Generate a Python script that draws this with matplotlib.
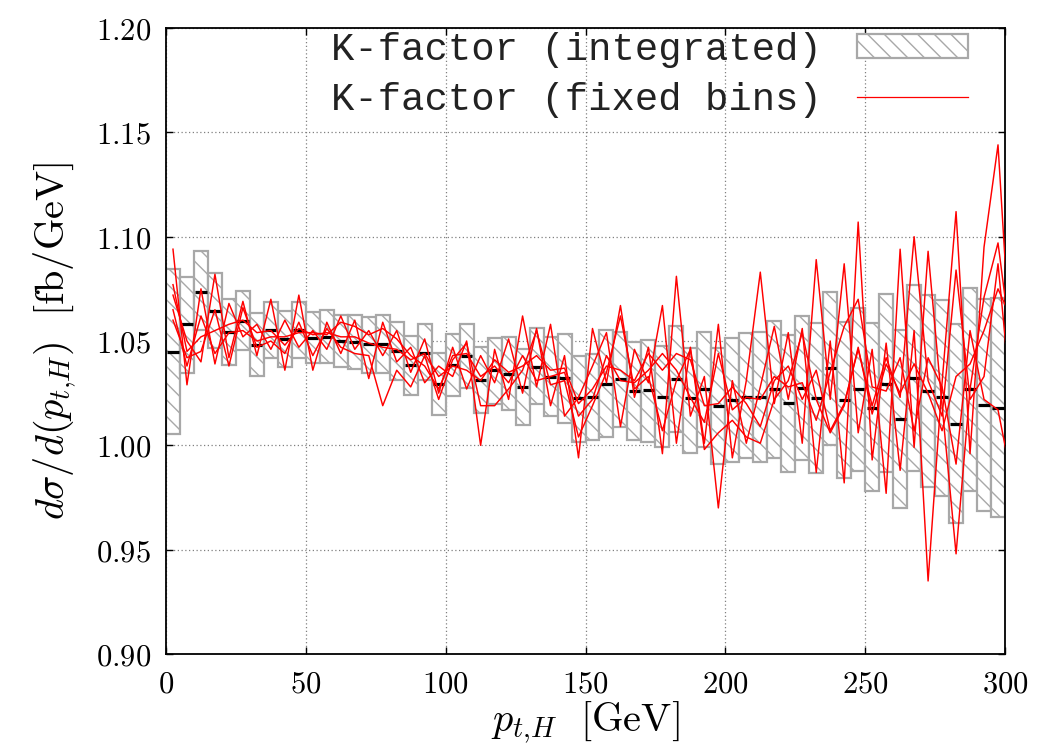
import numpy as np
import matplotlib
matplotlib.use("Agg")
import matplotlib.pyplot as plt
from matplotlib.patches import Patch
from matplotlib.lines import Line2D
from matplotlib.ticker import FuncFormatter

plt.rcParams['mathtext.fontset'] = 'cm'
plt.rcParams['hatch.linewidth'] = 1.0

# ---- integrated K-factor bins (5 GeV) ----
bin_edges_lo = np.arange(0, 300, 5)
box_top = [1.0845, 1.0808, 1.0930, 1.0824, 1.0700, 1.0740, 1.0633, 1.0689, 1.0644, 1.0685,
           1.0641, 1.0649, 1.0625, 1.0625, 1.0614, 1.0625, 1.0593, 1.0524, 1.0582, 1.0444,
           1.0534, 1.0582, 1.0473, 1.0516, 1.0518, 1.0460, 1.0561, 1.0521, 1.0534, 1.0428,
           1.0438, 1.0553, 1.0542, 1.0497, 1.0505, 1.0476, 1.0574, 1.0465, 1.0542, 1.0468,
           1.0513, 1.0540, 1.0545, 1.0598, 1.0529, 1.0622, 1.0585, 1.0737, 1.0592, 1.0657,
           1.0585, 1.0724, 1.0553, 1.0769, 1.0721, 1.0697, 1.0580, 1.0756, 1.0702, 1.0708]
box_bottom = [1.0055, 1.0348, 1.0553, 1.0465, 1.0385, 1.0457, 1.0334, 1.0417, 1.0377, 1.0417,
              1.0393, 1.0393, 1.0374, 1.0365, 1.0345, 1.0345, 1.0313, 1.0242, 1.0313, 1.0146,
              1.0237, 1.0274, 1.0154, 1.0198, 1.0170, 1.0098, 1.0198, 1.0141, 1.0109, 1.0018,
              1.0026, 1.0042, 1.0090, 1.0026, 1.0018, 0.9994, 1.0063, 0.9965, 0.9994, 0.9911,
              0.9922, 0.9938, 0.9922, 0.9938, 0.9870, 0.9930, 0.9866, 1.0002, 0.9843, 0.9878,
              0.9779, 0.9870, 0.9702, 0.9879, 0.9799, 0.9759, 0.9627, 0.9782, 0.9686, 0.9656]
box_center = [1.0449, 1.0580, 1.0735, 1.0646, 1.0543, 1.0598, 1.0483, 1.0553, 1.0511, 1.0553,
              1.0516, 1.0521, 1.0502, 1.0497, 1.0484, 1.0484, 1.0452, 1.0384, 1.0441, 1.0296,
              1.0387, 1.0428, 1.0313, 1.0361, 1.0342, 1.0278, 1.0377, 1.0329, 1.0321, 1.0226,
              1.0230, 1.0294, 1.0317, 1.0262, 1.0266, 1.0234, 1.0318, 1.0229, 1.0269, 1.0190,
              1.0218, 1.0234, 1.0234, 1.0269, 1.0202, 1.0277, 1.0226, 1.0371, 1.0218, 1.0269,
              1.0181, 1.0294, 1.0128, 1.0323, 1.0261, 1.0230, 1.0103, 1.0269, 1.0194, 1.0181]

# ---- fixed-bins K-factor curves (points at bin centres) ----
red_x = np.arange(2.5, 305, 5)
red_1 = [1.094, 1.029, 1.075, 1.039, 1.068, 1.052, 1.058, 1.046, 1.060, 1.047,
         1.055, 1.046, 1.062, 1.046, 1.055, 1.043, 1.055, 1.035, 1.051, 1.025,
         1.047, 1.027, 1.043, 1.030, 1.051, 1.025, 1.056, 1.019, 1.043, 0.994,
         1.056, 1.030, 1.067, 1.023, 1.047, 0.996, 1.081, 1.014, 1.033, 0.970,
         1.031, 1.001, 1.028, 1.057, 1.022, 1.056, 0.987, 1.050, 0.982, 1.107,
         0.993, 1.049, 0.988, 1.055, 0.935, 1.030, 1.112, 0.996, 1.095, 1.144, 1.034]
red_2 = [1.072, 1.050, 1.040, 1.082, 1.042, 1.069, 1.043, 1.070, 1.036, 1.072,
         1.036, 1.059, 1.044, 1.060, 1.032, 1.059, 1.040, 1.047, 1.030, 1.038,
         1.033, 1.050, 1.000, 1.046, 1.022, 1.062, 1.028, 1.058, 1.014, 1.023,
         1.038, 1.054, 1.009, 1.046, 1.030, 1.067, 1.001, 1.047, 1.001, 1.058,
         0.994, 1.031, 1.083, 1.020, 1.054, 1.001, 1.089, 1.022, 1.087, 1.006,
         1.046, 0.977, 1.094, 0.999, 1.093, 1.019, 0.948, 1.027, 1.071, 1.097, 1.045]
red_3 = [1.077, 1.045, 1.052, 1.055, 1.058, 1.060, 1.054, 1.055, 1.048, 1.056,
         1.053, 1.054, 1.052, 1.052, 1.049, 1.047, 1.046, 1.041, 1.044, 1.033,
         1.038, 1.036, 1.031, 1.041, 1.035, 1.038, 1.043, 1.036, 1.037, 1.020,
         1.027, 1.038, 1.036, 1.031, 1.044, 1.036, 1.044, 1.041, 1.019, 1.020,
         1.028, 1.020, 1.009, 1.031, 1.038, 1.022, 1.036, 1.007, 1.020, 1.046,
         1.019, 1.042, 1.023, 1.100, 1.031, 1.014, 1.084, 1.022, 1.033, 1.087, 1.017]
red_4 = [1.065, 1.038, 1.062, 1.044, 1.054, 1.055, 1.050, 1.052, 1.052, 1.054,
         1.054, 1.053, 1.059, 1.057, 1.053, 1.056, 1.051, 1.043, 1.038, 1.027,
         1.043, 1.044, 1.033, 1.038, 1.030, 1.043, 1.031, 1.033, 1.035, 1.014,
         1.022, 1.043, 1.031, 1.030, 1.036, 1.044, 1.036, 1.023, 1.011, 1.044,
         1.017, 1.023, 1.022, 1.033, 1.028, 1.030, 1.012, 1.035, 1.057, 1.070,
         1.028, 1.026, 1.042, 1.007, 1.042, 1.028, 0.991, 1.055, 1.022, 1.017, 0.983]
red_5 = [1.060, 1.042, 1.045, 1.065, 1.038, 1.066, 1.047, 1.050, 1.044, 1.059,
         1.043, 1.056, 1.047, 1.044, 1.043, 1.019, 1.036, 1.028, 1.043, 1.022,
         1.041, 1.049, 1.019, 1.019, 1.027, 1.036, 1.055, 1.029, 1.031, 1.004,
         1.019, 1.035, 1.062, 1.027, 1.033, 1.007, 1.031, 1.046, 0.998, 1.006,
         1.012, 1.004, 1.001, 1.022, 1.031, 1.054, 1.022, 1.006, 1.019, 1.047,
         1.015, 1.039, 1.025, 1.039, 1.025, 1.007, 1.033, 1.039, 1.055, 1.075, 1.060]

x_ticks = [0, 50, 100, 150, 200, 250, 300]
y_ticks = [0.90, 0.95, 1.00, 1.05, 1.10, 1.15, 1.20]
legend_labels = ['K-factor (integrated)', 'K-factor (fixed bins)']

fig = plt.figure(figsize=(10.45, 7.5), dpi=100)
ax = fig.add_axes([166/1045, 1 - 654/750, (1005 - 166)/1045, (654 - 28)/750])

box_color = '#a8a8a8'
lo = np.array(bin_edges_lo, dtype=float)
top = np.array(box_top)
bot = np.array(box_bottom)
ax.bar(lo + 2.5, top - bot, bottom=bot, width=5, facecolor='white',
       edgecolor=box_color, hatch='\\\\', linewidth=1.6, zorder=2)
ax.hlines(box_center, lo + 0.5, lo + 4.5, colors='black', linewidth=2.3, zorder=3)

for ys in (red_1, red_2, red_3, red_4, red_5):
    ax.plot(red_x, ys, color='#ff0000', linewidth=1.05, zorder=4, clip_on=True)

ax.set_xlim(0, 300)
ax.set_ylim(0.90, 1.20)
ax.set_xticks(x_ticks)
ax.set_yticks(y_ticks)
ax.xaxis.set_major_formatter(FuncFormatter(lambda v, p: r'$%d$' % v))
ax.yaxis.set_major_formatter(FuncFormatter(lambda v, p: r'$%.2f$' % v))
ax.tick_params(direction='in', length=5, width=1.0, top=True, right=True,
               labelsize=22, color='black')
ax.tick_params(axis='y', pad=11)
ax.tick_params(axis='x', pad=11)
ax.grid(True, color='#808080', linestyle=(0, (1, 2)), linewidth=0.9, zorder=1)
ax.set_axisbelow(True)
for s in ax.spines.values():
    s.set_linewidth(1.3)

ax.set_xlabel(r'$p_{t{,}H}\ \ [\mathrm{GeV}]$', fontsize=29, labelpad=1)
ax.set_ylabel(r'$d\sigma/d(p_{t{,}H})\ \ [\mathrm{fb/GeV}]$', fontsize=29, labelpad=12)

handles = [Patch(facecolor='white', edgecolor=box_color, hatch='\\\\', linewidth=1.6),
           Line2D([0], [0], color='#ff0000', linewidth=0.9)]
leg = ax.legend(handles, legend_labels, loc='upper right', bbox_to_anchor=(0.956, 0.994),
                frameon=False, markerfirst=False, borderaxespad=0, borderpad=0,
                handlelength=2.85, handleheight=0.55, handletextpad=0.9,
                labelspacing=0.37, prop={'family': 'Liberation Mono', 'size': 28})
for t in leg.get_texts():
    t.set_color('#222222')

fig.savefig('out.png', dpi=100)
